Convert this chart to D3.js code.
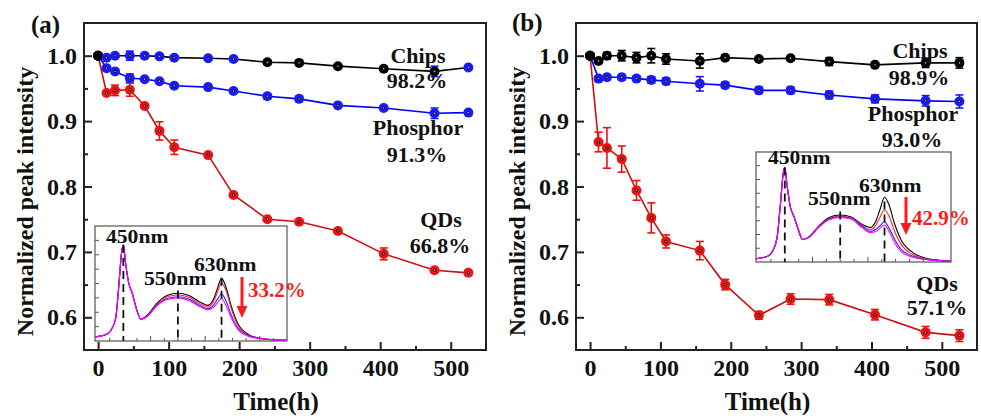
<!DOCTYPE html>
<html>
<head>
<meta charset="utf-8">
<script src="https://cdn.jsdelivr.net/npm/d3@7"></script>
<style>
  body { margin: 0; background: #fff; }
  svg { display: block; }
  text { font-family: "Liberation Serif", "Times New Roman", serif; font-weight: bold; }
</style>
</head>
<body>
<div id="chart"></div>
<script>
const width = 981;
const height = 416;

// aging time (h)
const hours = [0, 12, 24, 45, 66, 87, 108, 156, 192, 240, 285, 340, 405, 477, 525];

// panel (a)
const chipsA       = [1.000, 0.997, 1.000, 1.000, 1.000, 0.999, 0.997, 0.996, 0.995, 0.990, 0.989, 0.984, 0.980, 0.976, 0.982];
const chipsAErr    = [0, 0.002, 0.002, 0.007, 0.002, 0.002, 0.002, 0.002, 0.003, 0.003, 0.003, 0.002, 0.003, 0.008, 0.002];
const phosphorA    = [1.000, 0.981, 0.976, 0.966, 0.964, 0.961, 0.954, 0.952, 0.946, 0.938, 0.934, 0.924, 0.920, 0.912, 0.913];
const phosphorAErr = [0, 0.003, 0.003, 0.006, 0.002, 0.002, 0.002, 0.002, 0.003, 0.004, 0.004, 0.002, 0.003, 0.008, 0.003];
const qdsA         = [1.000, 0.943, 0.947, 0.948, 0.923, 0.885, 0.860, 0.848, 0.787, 0.750, 0.746, 0.732, 0.697, 0.672, 0.668];
const qdsAErr      = [0, 0.003, 0.008, 0.010, 0.003, 0.014, 0.011, 0.003, 0.003, 0.002, 0.003, 0.002, 0.009, 0.003, 0.003];

// panel (b)
const chipsB       = [1.000, 0.992, 1.000, 1.000, 0.997, 1.000, 0.995, 0.992, 0.997, 0.995, 0.996, 0.991, 0.986, 0.989, 0.989];
const chipsBErr    = [0, 0.003, 0.005, 0.008, 0.008, 0.011, 0.008, 0.011, 0.004, 0.003, 0.003, 0.006, 0.003, 0.007, 0.008];
const phosphorB    = [1.000, 0.965, 0.967, 0.967, 0.965, 0.963, 0.961, 0.957, 0.955, 0.947, 0.947, 0.940, 0.934, 0.931, 0.930];
const phosphorBErr = [0, 0.004, 0.004, 0.004, 0.004, 0.005, 0.005, 0.011, 0.004, 0.005, 0.005, 0.006, 0.006, 0.008, 0.010];
const qdsB         = [1.000, 0.868, 0.859, 0.842, 0.794, 0.752, 0.716, 0.702, 0.650, 0.603, 0.628, 0.627, 0.604, 0.577, 0.572];
const qdsBErr      = [0, 0.015, 0.031, 0.020, 0.015, 0.023, 0.010, 0.014, 0.008, 0.006, 0.008, 0.008, 0.008, 0.009, 0.009];

const xTicks = [0, 100, 200, 300, 400, 500];
const xMinor = [50, 150, 250, 350, 450];
const yTicks = [0.6, 0.7, 0.8, 0.9, 1.0];
const yMinor = [0.65, 0.75, 0.85, 0.95];

// inset spectra (normalized, wavelength in nm)
const wavelengths = [398, 420, 428, 436, 442, 447, 450, 454, 460, 466, 474, 482, 495, 510, 530, 550,
                     570, 590, 605, 615, 622, 630, 638, 648, 660, 680, 700, 730, 750];
const blueA = [0.035, 0.06, 0.10, 0.20, 0.50, 0.78, 0.835, 0.68, 0.50, 0.42, 0.28, 0.19];
const spectraA = [
  blueA.concat([0.230, 0.320, 0.395, 0.415, 0.395, 0.340, 0.310, 0.360, 0.450, 0.545, 0.470, 0.300, 0.150, 0.055, 0.025, 0.010, 0.006]),
  blueA.concat([0.225, 0.310, 0.385, 0.400, 0.380, 0.325, 0.295, 0.340, 0.420, 0.507, 0.440, 0.280, 0.135, 0.050, 0.024, 0.010, 0.006]),
  blueA.concat([0.222, 0.305, 0.370, 0.385, 0.365, 0.310, 0.280, 0.310, 0.360, 0.409, 0.350, 0.225, 0.110, 0.045, 0.022, 0.010, 0.006]),
  blueA.concat([0.220, 0.300, 0.360, 0.375, 0.352, 0.300, 0.272, 0.290, 0.330, 0.370, 0.310, 0.200, 0.100, 0.040, 0.022, 0.010, 0.006])
];
const blueB = [0.03, 0.055, 0.10, 0.22, 0.52, 0.80, 0.861, 0.70, 0.50, 0.42, 0.30, 0.205];
const spectraB = [
  blueB.concat([0.235, 0.320, 0.405, 0.427, 0.410, 0.340, 0.315, 0.380, 0.480, 0.588, 0.520, 0.350, 0.200, 0.090, 0.040, 0.015, 0.008]),
  blueB.concat([0.230, 0.315, 0.395, 0.418, 0.400, 0.330, 0.295, 0.340, 0.410, 0.473, 0.420, 0.280, 0.160, 0.070, 0.032, 0.013, 0.008]),
  blueB.concat([0.230, 0.310, 0.390, 0.410, 0.395, 0.320, 0.278, 0.300, 0.330, 0.366, 0.310, 0.210, 0.115, 0.055, 0.028, 0.012, 0.008]),
  blueB.concat([0.230, 0.310, 0.385, 0.406, 0.390, 0.310, 0.268, 0.280, 0.310, 0.336, 0.280, 0.180, 0.095, 0.045, 0.025, 0.012, 0.008])
];
const spectraColors = ["#000000", "#ff2a2a", "#2a2aff", "#ff00ff"];
const peaks = [450, 550, 630];

const plotTop = 23, plotBottom = 350;

const svg = d3.select("#chart").append("svg")
    .attr("width", width)
    .attr("height", height)
    .attr("viewBox", `0 0 ${width} ${height}`);

function drawPanel(p) {
  const x = d3.scaleLinear().domain([-20, 550]).range([p.left, p.right]);
  const y = d3.scaleLinear().domain([0.55, 1.05]).range([plotBottom, plotTop]);
  const g = svg.append("g");

  // axes, ticks pointing inward
  g.append("g").attr("transform", `translate(0,${plotBottom})`)
      .call(d3.axisBottom(x).tickValues(xTicks).tickSize(-8).tickPadding(9).tickFormat(d3.format("d")));
  g.append("g").attr("transform", `translate(0,${plotBottom})`)
      .call(d3.axisBottom(x).tickValues(xMinor).tickSize(-4).tickFormat(""));
  g.append("g").attr("transform", `translate(${p.left},0)`)
      .call(d3.axisLeft(y).tickValues(yTicks).tickSize(-8).tickPadding(7).tickFormat(d3.format(".1f")));
  g.append("g").attr("transform", `translate(${p.left},0)`)
      .call(d3.axisLeft(y).tickValues(yMinor).tickSize(-4).tickFormat(""));
  g.selectAll(".domain").remove();
  g.selectAll(".tick line").attr("stroke", "#222").attr("stroke-width", 2);
  g.selectAll(".tick text").attr("font-family", "Liberation Serif, serif")
      .attr("font-weight", "bold").attr("font-size", 24).attr("fill", "#111");

  g.append("rect")
      .attr("x", p.left).attr("y", plotTop)
      .attr("width", p.right - p.left).attr("height", plotBottom - plotTop)
      .attr("fill", "none").attr("stroke", "#222").attr("stroke-width", 2);

  // axis titles
  g.append("text")
      .attr("transform", `translate(${p.left - 51},${(plotTop + plotBottom) / 2 + 15}) rotate(-90)`)
      .attr("text-anchor", "middle").attr("font-size", 24).attr("fill", "#111")
      .text("Normalized peak intensity");
  g.append("text")
      .attr("x", (p.left + p.right) / 2 - 9).attr("y", 410)
      .attr("text-anchor", "middle").attr("font-size", 25).attr("fill", "#111")
      .text("Time(h)");
  g.append("text").attr("x", p.tagX).attr("y", p.tagY)
      .attr("font-size", 25).attr("fill", "#111").text(p.tag);

  // inset first so the curves of the main plot stay visible
  drawInset(g, p.inset);

  const line = d3.line().x((d, i) => x(hours[i])).y(d => y(d));
  p.series.forEach(s => {
    g.append("path").datum(s.values)
        .attr("d", line).attr("fill", "none")
        .attr("stroke", s.line).attr("stroke-width", 1.6);
    const eb = g.append("g").attr("stroke", s.err || s.color).attr("stroke-width", 1.6);
    s.values.forEach((v, i) => {
      const e = s.errs[i];
      if (!e) return;
      const cx = x(hours[i]);
      eb.append("line").attr("x1", cx).attr("x2", cx).attr("y1", y(v - e)).attr("y2", y(v + e));
      eb.append("line").attr("x1", cx - 4).attr("x2", cx + 4).attr("y1", y(v - e)).attr("y2", y(v - e));
      eb.append("line").attr("x1", cx - 4).attr("x2", cx + 4).attr("y1", y(v + e)).attr("y2", y(v + e));
    });
    g.append("g").selectAll("circle")
      .data(s.values)
      .join("circle")
        .attr("cx", (d, i) => x(hours[i])).attr("cy", d => y(d))
        .attr("r", 5)
        .attr("fill", (d, i) => i === 0 ? "#000" : s.marker(i));
    g.append("g").selectAll("circle")
      .data(s.values.slice(1))
      .join("circle")
        .attr("cx", (d, i) => x(hours[i + 1])).attr("cy", d => y(d))
        .attr("r", 1.2).attr("fill", "#bbb").attr("stroke", "#000").attr("stroke-width", 0.9);
  });

  // series labels
  p.labels.forEach(l => {
    g.append("text").attr("x", l[0]).attr("y", l[1])
        .attr("text-anchor", "middle").attr("font-size", 22).attr("fill", "#111").text(l[2]);
  });
}

function drawInset(g, s) {
  const xs = d3.scaleLinear().domain([398, 750]).range([s.x0, s.x1]);
  const ys = d3.scaleLinear().domain([0, 1]).range([s.y1, s.y0]);
  const ig = g.append("g");
  ig.append("rect").attr("x", s.x0).attr("y", s.y0)
      .attr("width", s.x1 - s.x0).attr("height", s.y1 - s.y0)
      .attr("fill", "#fff").attr("stroke", "#555").attr("stroke-width", 1.2);
  const tk = ig.append("g").attr("stroke", "#555").attr("stroke-width", 1);
  d3.range(0.125, 1, 0.125).forEach(v => {
    tk.append("line").attr("x1", s.x0).attr("x2", s.x0 + 4).attr("y1", ys(v)).attr("y2", ys(v));
  });
  d3.range(425, 750, 25).forEach(w => {
    const len = w % 100 === 0 ? 5 : 3;
    tk.append("line").attr("x1", xs(w)).attr("x2", xs(w)).attr("y1", s.y1).attr("y2", s.y1 - len);
  });

  const line = d3.line().x((d, i) => xs(wavelengths[i])).y(d => ys(d)).curve(d3.curveMonotoneX);
  s.spectra.forEach((sp, k) => {
    ig.append("path").datum(sp).attr("d", line)
        .attr("fill", "none").attr("stroke", spectraColors[k]).attr("stroke-width", 1.1);
  });

  peaks.forEach((w, k) => {
    ig.append("line").attr("x1", xs(w)).attr("x2", xs(w))
        .attr("y1", ys(s.dashTop[k])).attr("y2", s.y1)
        .attr("stroke", "#111").attr("stroke-width", 1.8).attr("stroke-dasharray", "8,5");
    const t = s.peakText[k];
    ig.append("text").attr("transform", `translate(${t[0]},${t[1]}) scale(1.2,1)`)
        .attr("font-size", 18).attr("fill", "#111").text(w + "nm");
  });

  // red decrease arrow
  ig.append("line").attr("x1", s.arrow[0]).attr("x2", s.arrow[0])
      .attr("y1", s.arrow[1]).attr("y2", s.arrow[2] - 10)
      .attr("stroke", "#ff1a1a").attr("stroke-width", 3);
  ig.append("path")
      .attr("d", `M${s.arrow[0] - 5.5},${s.arrow[2] - 12}L${s.arrow[0] + 5.5},${s.arrow[2] - 12}L${s.arrow[0]},${s.arrow[2]}Z`)
      .attr("fill", "#ff1a1a");
  ig.append("text").attr("x", s.dropText[0]).attr("y", s.dropText[1])
      .attr("font-size", 21).attr("fill", "#ff1a1a").text(s.drop);
}

const blue = "#1a1aff", red = "#ee1111", black = "#000";

drawPanel({
  left: 84, right: 486, tag: "(a)", tagX: 31, tagY: 33,
  series: [
    { values: qdsA, errs: qdsAErr, color: red, line: "#cc1111", marker: () => red },
    { values: phosphorA, errs: phosphorAErr, color: blue, line: "#0000ff", marker: () => blue },
    { values: chipsA, errs: chipsAErr, color: blue, line: "#000", marker: i => (i <= 8 || i === 14) ? blue : black }
  ],
  labels: [[418, 63, "Chips"], [417, 88, "98.2%"], [418, 135, "Phosphor"], [417, 162, "91.3%"],
           [441, 227, "QDs"], [440, 253, "66.8%"]],
  inset: {
    x0: 95, x1: 287, y0: 226, y1: 341, spectra: spectraA,
    dashTop: [0.835, 0.44, 0.55],
    peakText: [[106, 243], [144, 285], [194, 271]],
    arrow: [242, 277, 318], drop: "33.2%", dropText: [248, 297]
  }
});

drawPanel({
  left: 576, right: 977, tag: "(b)", tagX: 512, tagY: 31,
  series: [
    { values: qdsB, errs: qdsBErr, color: red, line: "#cc1111", marker: () => red },
    { values: phosphorB, errs: phosphorBErr, color: blue, line: "#0000ff", marker: () => blue },
    { values: chipsB, errs: chipsBErr, color: black, line: "#000", marker: () => black }
  ],
  labels: [[920, 58, "Chips"], [919, 85, "98.9%"], [913, 121, "Phosphor"], [912, 147, "93.0%"],
           [937, 291, "QDs"], [937, 315, "57.1%"]],
  inset: {
    x0: 756, x1: 951, y0: 152, y1: 262, spectra: spectraB,
    dashTop: [0.86, 0.46, 0.55],
    peakText: [[768, 164], [808, 205], [859, 192]],
    arrow: [906, 197, 235], drop: "42.9%", dropText: [912, 225]
  }
});
</script>
</body>
</html>
